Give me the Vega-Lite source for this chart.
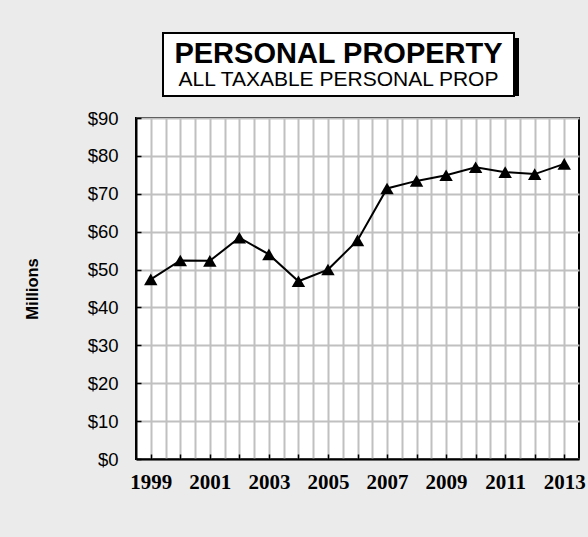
{
  "$schema": "https://vega.github.io/schema/vega-lite/v6.json",
  "background": "#ebebeb",
  "padding": {"left": 23, "top": 32, "right": 9, "bottom": 47},
  "spacing": 11,
  "vconcat": [
    {
      "hconcat": [
        {
          "width": 1,
          "height": 63,
          "view": {"stroke": null, "fill": null},
          "data": {"values": [{"t": ""}]},
          "mark": {"type": "text"},
          "encoding": {"text": {"field": "t"}}
        },
        {
          "width": 351,
          "height": 63,
          "view": {"stroke": null, "fill": null},
          "data": {"values": [{"t": "PERSONAL PROPERTY", "s": "ALL TAXABLE PERSONAL PROP"}]},
          "layer": [
            {
              "mark": {"type": "rect", "color": "black", "xOffset": 5, "x2Offset": 5, "yOffset": 5, "y2Offset": 5},
              "encoding": {}
            },
            {
              "mark": {"type": "rect", "fill": "white", "stroke": "black", "strokeWidth": 2},
              "encoding": {}
            },
            {
              "mark": {"type": "text", "font": "Liberation Sans", "fontWeight": "bold", "fontSize": 29, "baseline": "alphabetic", "dy": -1.5, "color": "black"},
              "encoding": {"text": {"field": "t"}}
            },
            {
              "mark": {"type": "text", "font": "Liberation Sans", "fontSize": 21, "baseline": "alphabetic", "dy": 21.5, "color": "black"},
              "encoding": {"text": {"field": "s"}}
            }
          ]
        }
      ],
      "spacing": 25
    },
    {
      "width": 443,
      "height": 341,
      "view": {"fill": "white", "stroke": "black", "strokeWidth": 2},
      "data": {
        "values": [
          {"year": 1999, "value": 47.4},
          {"year": 2000, "value": 52.4},
          {"year": 2001, "value": 52.3},
          {"year": 2002, "value": 58.4},
          {"year": 2003, "value": 54.0},
          {"year": 2004, "value": 46.9},
          {"year": 2005, "value": 50.0},
          {"year": 2006, "value": 57.7},
          {"year": 2007, "value": 71.4},
          {"year": 2008, "value": 73.4},
          {"year": 2009, "value": 74.9},
          {"year": 2010, "value": 77.0},
          {"year": 2011, "value": 75.7},
          {"year": 2012, "value": 75.2},
          {"year": 2013, "value": 77.9}
        ]
      },
      "mark": {
        "type": "line",
        "color": "black",
        "strokeWidth": 2,
        "point": {"shape": "triangle-up", "size": 180, "filled": true, "color": "black", "opacity": 1}
      },
      "encoding": {
        "x": {
          "field": "year",
          "type": "quantitative",
          "scale": {"domain": [1998.5, 2013.5], "nice": false, "zero": false},
          "axis": {
            "title": null,
            "values": [1999, 1999.5, 2000, 2000.5, 2001, 2001.5, 2002, 2002.5, 2003, 2003.5, 2004, 2004.5, 2005, 2005.5, 2006, 2006.5, 2007, 2007.5, 2008, 2008.5, 2009, 2009.5, 2010, 2010.5, 2011, 2011.5, 2012, 2012.5, 2013],
            "grid": true,
            "gridColor": "#c0c0c0",
            "gridWidth": 2,
            "gridOpacity": 1,
            "domainColor": "black",
            "domainWidth": 2,
            "tickColor": "black",
            "tickWidth": 1.5,
            "tickSize": -5,
            "tickOpacity": {"condition": {"test": "datum.value % 1 != 0", "value": 0}, "value": 1},
            "labelExpr": "datum.value % 2 == 1 ? '' + datum.value : ''",
            "labelFont": "Liberation Serif",
            "labelFontWeight": "bold",
            "labelFontSize": 21,
            "labelColor": "black",
            "labelPadding": 17,
            "labelFlush": false,
            "labelOverlap": false
          }
        },
        "y": {
          "field": "value",
          "type": "quantitative",
          "scale": {"domain": [0, 90], "nice": false},
          "axis": {
            "title": "Millions",
            "titleFont": "Liberation Sans",
            "titleFontWeight": "bold",
            "titleFontSize": 16.5,
            "titleColor": "black",
            "titlePadding": 47,
            "values": [0, 10, 20, 30, 40, 50, 60, 70, 80, 90],
            "format": "$,.0f",
            "grid": true,
            "gridColor": "#c0c0c0",
            "gridWidth": 2,
            "gridOpacity": 1,
            "domainColor": "black",
            "domainWidth": 2,
            "tickColor": "black",
            "tickWidth": 1.5,
            "tickSize": -5,
            "labelFont": "Liberation Sans",
            "labelFontSize": 18.5,
            "labelColor": "black",
            "labelPadding": 23
          }
        }
      }
    }
  ]
}
